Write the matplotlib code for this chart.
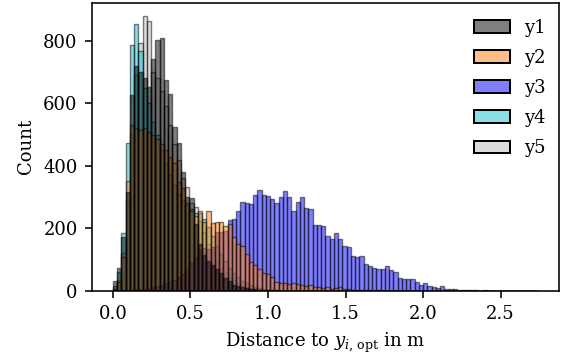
import numpy as np
import matplotlib
matplotlib.use("Agg")
import matplotlib.pyplot as plt
from matplotlib.patches import Patch
from matplotlib.colors import to_rgba

plt.rcParams['font.family'] = ['DejaVu Serif']
plt.rcParams['mathtext.fontset'] = 'dejavuserif'
plt.rcParams['font.size'] = 9

# histogram bin definition (common bins for all series)
BIN_MIN, BIN_MAX, N_BINS = 0.0, 2.74, 100

labels = ["y1", "y2", "y3", "y4", "y5"]
colors = ["black", "#ff7f0e", "blue", "#17becf", "#bbbbbb"]

# counts per bin
y1 = [32, 72, 173, 315, 626, 720, 700, 680, 653, 741, 802, 809, 676, 631, 523, 472, 381, 299, 296, 215,
      150, 115, 95, 83, 70, 57, 40, 32, 20, 16, 12, 9, 7, 6, 4, 3, 3, 2, 2, 1,
      1, 1, 0, 1, 0, 0, 0, 0, 0, 0, 0, 0, 0, 0, 0, 0, 0, 0, 0, 0,
      0, 0, 0, 0, 0, 0, 0, 0, 0, 0, 0, 0, 0, 0, 0, 0, 0, 0, 0, 0,
      0, 0, 0, 0, 0, 0, 0, 0, 0, 0, 0, 0, 0, 0, 0, 0, 0, 0, 0, 0]
y2 = [5, 28, 110, 351, 530, 520, 515, 520, 510, 500, 485, 470, 450, 430, 408, 350, 330, 280, 255, 240,
      256, 222, 257, 216, 222, 222, 209, 214, 172, 150, 143, 118, 92, 83, 70, 59, 55, 45, 30, 24,
      24, 21, 27, 22, 20, 15, 18, 12, 14, 10, 12, 8, 10, 12, 6, 5, 3, 4, 3, 2,
      3, 1, 2, 1, 1, 0, 1, 0, 0, 1, 0, 0, 0, 0, 0, 0, 0, 0, 0, 0,
      0, 0, 0, 0, 0, 0, 0, 0, 0, 0, 0, 0, 0, 0, 0, 0, 0, 0, 0, 0]
y3 = [0, 1, 2, 3, 4, 5, 6, 8, 10, 12, 15, 20, 25, 30, 35, 45, 55, 70, 90, 110,
      130, 136, 135, 140, 188, 190, 192, 226, 231, 257, 284, 280, 277, 308, 324, 308, 303, 295, 282, 300,
      319, 300, 255, 284, 300, 266, 263, 210, 210, 209, 176, 166, 184, 165, 144, 142, 113, 108, 112, 85,
      81, 72, 70, 70, 81, 67, 60, 40, 38, 38, 38, 30, 19, 24, 17, 14, 11, 16, 5, 5,
      6, 4, 4, 2, 3, 2, 1, 2, 1, 1, 0, 1, 1, 0, 1, 0, 0, 0, 1, 1]
y4 = [15, 60, 186, 472, 786, 855, 767, 650, 600, 540, 500, 450, 410, 370, 340, 310, 290, 275, 262, 250,
      250, 231, 205, 175, 145, 118, 95, 75, 58, 44, 33, 25, 18, 13, 9, 6, 4, 3, 2, 1,
      1, 0, 1, 0, 0, 0, 0, 0, 0, 0, 0, 0, 0, 0, 0, 0, 0, 0, 0, 0,
      0, 0, 0, 0, 0, 0, 0, 0, 0, 0, 0, 0, 0, 0, 0, 0, 0, 0, 0, 0,
      0, 0, 0, 0, 0, 0, 0, 0, 0, 0, 0, 0, 0, 0, 0, 0, 0, 0, 0, 0]
y5 = [8, 35, 120, 290, 500, 690, 793, 878, 862, 700, 680, 640, 590, 530, 470, 420, 360, 333, 280, 269,
      225, 190, 150, 120, 95, 75, 58, 45, 35, 26, 19, 14, 10, 7, 5, 4, 3, 2, 2, 1,
      1, 0, 1, 0, 0, 0, 0, 0, 0, 0, 0, 0, 0, 0, 0, 0, 0, 0, 0, 0,
      0, 0, 0, 0, 0, 0, 0, 0, 0, 0, 0, 0, 0, 0, 0, 0, 0, 0, 0, 0,
      0, 0, 0, 0, 0, 0, 0, 0, 0, 0, 0, 0, 0, 0, 0, 0, 0, 0, 0, 0]
series = [y1, y2, y3, y4, y5]

edges = np.linspace(BIN_MIN, BIN_MAX, N_BINS + 1)
centers = 0.5 * (edges[:-1] + edges[1:])

DPI = 144
fig = plt.figure(figsize=(565 / DPI, 359 / DPI), dpi=DPI)
ax = fig.add_axes([0.1623, 0.1894, 0.9894 - 0.1623, 0.9925 - 0.1894])

# draw last series first so y1 ends up on top
for lab, col, vals in reversed(list(zip(labels, colors, series))):
    ax.hist(centers, bins=edges, weights=vals, color=col, alpha=0.5,
            edgecolor="black", linewidth=0.7, label=lab)

ax.margins(x=0.05, y=0.05)
ax.set_ylim(bottom=0)
ax.set_xticks([0.0, 0.5, 1.0, 1.5, 2.0, 2.5])
ax.set_yticks([0, 200, 400, 600, 800])
ax.set_xlabel(r"Distance to $y_{i,\,\mathrm{opt}}$ in m")
ax.set_ylabel("Count")

handles = [Patch(facecolor=to_rgba(c, 0.5), edgecolor="black", linewidth=1.0) for c in colors]
ax.legend(handles, labels, loc="upper right", frameon=False, labelspacing=0.67,
          bbox_to_anchor=(1.0064, 1.0))

fig.savefig("out.png", dpi=DPI)
